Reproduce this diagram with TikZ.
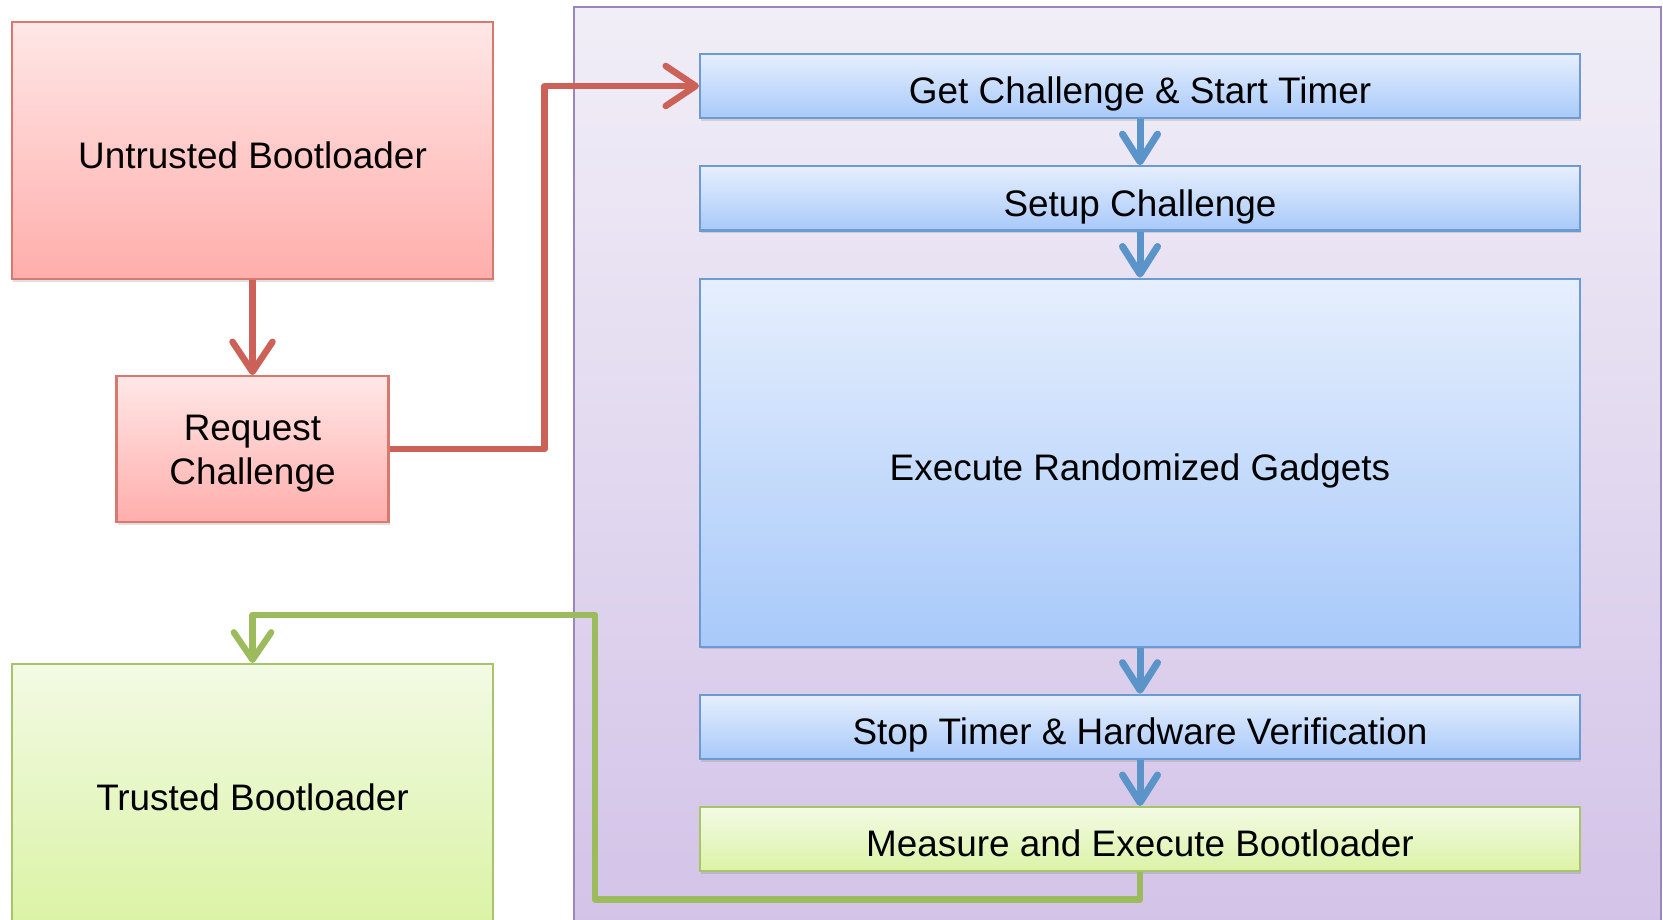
\documentclass[tikz,border=0pt]{standalone}
\usepackage{fontspec}
\setmainfont{Liberation Sans}
\usetikzlibrary{arrows.meta, positioning, shadows}
\definecolor{redtop}{HTML}{FFE7E7}
\definecolor{redbot}{HTML}{FFAEAB}
\definecolor{redline}{HTML}{D8786F}
\definecolor{bluetop}{HTML}{E6EFFD}
\definecolor{bluebot}{HTML}{A8C9FA}
\definecolor{blueline}{HTML}{6B9BD1}
\definecolor{greentop}{HTML}{F3FAE4}
\definecolor{greenbot}{HTML}{DBF3A6}
\definecolor{greenline}{HTML}{A7C46B}
\definecolor{frametop}{HTML}{F1EEF7}
\definecolor{framebot}{HTML}{D3C3E8}
\definecolor{frameline}{HTML}{9A86BE}
\definecolor{redarrow}{HTML}{CC6157}
\definecolor{bluearrow}{HTML}{5B94C8}
\definecolor{greenarrow}{HTML}{9CBB5C}
\newcommand{\boxfont}{\fontsize{21}{25}\selectfont}
\tikzstyle{frame_node} = [rectangle, draw=frameline, line width=1pt, top color=frametop, bottom color=framebot, inner sep=0pt]
\tikzstyle{red_box} = [rectangle, draw=redline, line width=1.2pt, top color=redtop, bottom color=redbot, align=center, font=\boxfont, text height=25pt, text depth=4.9pt, drop shadow={shadow xshift=0.6pt, shadow yshift=-1.5pt, opacity=0.25}]
\tikzstyle{green_box} = [red_box, draw=greenline, top color=greentop, bottom color=greenbot]
\tikzstyle{blue_box} = [red_box, draw=blueline, top color=bluetop, bottom color=bluebot, minimum width=17.6cm, minimum height=1.27cm]
\tikzstyle{red_arrow} = [line width=3.7pt, draw=redarrow, line join=round, -{Straight Barb[length=6mm, width=8mm, round]}]
\tikzstyle{blue_arrow} = [red_arrow, draw=bluearrow, line width=4pt, -{Straight Barb[length=5.5mm, width=7mm, round]}]
\tikzstyle{green_arrow} = [red_arrow, draw=greenarrow, line width=3.6pt, -{Straight Barb[length=5.5mm, width=7.5mm, round]}]

\begin{document}
\begin{tikzpicture}
    \useasboundingbox (0,0) rectangle (33.26,-18.4);
    \node (verifier) [frame_node, minimum width=21.74cm, minimum height=18.4cm, anchor=north west] at (11.46,-0.12) {};

    \node (untrusted) [red_box, minimum width=9.62cm, minimum height=5.14cm] at (5.05,-3.01) {Untrusted Bootloader};
    \node (request) [red_box, minimum width=5.44cm, minimum height=2.92cm, text height=45.6pt, below=1.9cm of untrusted] {Request\\Challenge};
    \node (trusted) [green_box, minimum width=9.62cm, minimum height=5.16cm] at (5.05,-15.86) {Trusted Bootloader};

    \node (get) [blue_box] at (22.8,-1.72) {Get Challenge \& Start Timer};
    \node (setup) [blue_box, below=0.92cm of get] {Setup Challenge};
    \node (execute) [blue_box, minimum height=7.36cm, below=0.92cm of setup] {Execute Randomized Gadgets};
    \node (stop) [blue_box, below=0.92cm of execute] {Stop Timer \& Hardware Verification};
    \node (measure) [blue_box, draw=greenline, top color=greentop, bottom color=greenbot, below=0.92cm of stop] {Measure and Execute Bootloader};

    \draw [red_arrow] (untrusted) -- (request);
    \draw [red_arrow] (request.east) -- ++(3.1,0) |- (get.west);
    \foreach \a/\b in {get/setup, setup/execute, execute/stop, stop/measure}
        \draw [blue_arrow] (\a) -- (\b);
    \draw [green_arrow] (measure.south) -- ++(0,-0.54) -| (11.9,-12.3) -| (trusted.north);
\end{tikzpicture}
\end{document}
